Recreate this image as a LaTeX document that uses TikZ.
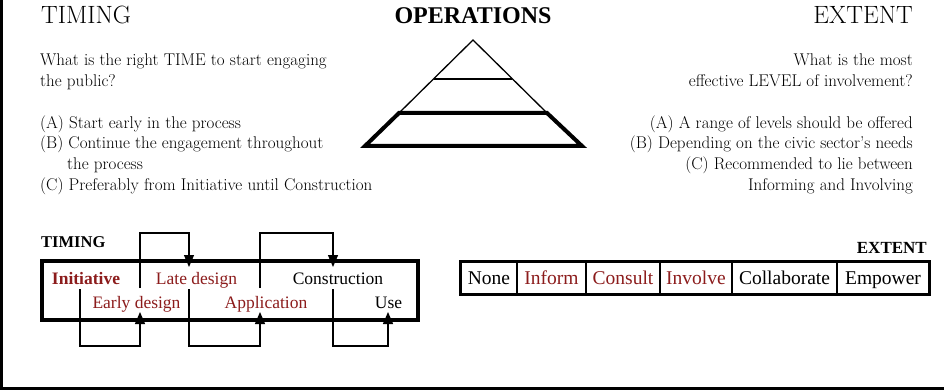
\documentclass[tikz,border=0pt]{standalone}
\usepackage{fontspec}
\newfontfamily\tnr{Liberation Serif}
\usetikzlibrary{arrows.meta}
\definecolor{wine}{RGB}{140,28,28}
\tikzset{
  body/.style={font=\fontsize{17}{20}\selectfont, inner sep=0pt},
  head/.style={font=\fontsize{25}{28}\selectfont, inner sep=0pt},
  stage/.style={font=\tnr\fontsize{17.5}{20}\selectfont, inner sep=0pt, anchor=base},
  label/.style={font=\tnr\bfseries\fontsize{16.5}{19}\selectfont, inner sep=0pt},
  flow/.style={line width=1.3pt, -{Triangle[length=12pt,width=10pt]}},
  cell/.style={draw, line width=1.3pt, minimum height=32pt, inner sep=0pt,
    text height=15pt, text depth=3pt, font=\tnr\fontsize{19.5}{22}\selectfont},
}
\begin{document}
\begin{tikzpicture}[x=1pt,y=-1pt]
\useasboundingbox (0,0) rectangle (944,390);
\fill[white] (0,0) rectangle (944,390);
% frame strips
\fill[black] (0,0) rectangle (3,390);
\fill[black] (0,387) rectangle (944,390);

% headings
\node[head, anchor=base west] (hT) at (41,24) {TIMING};
\node[head, anchor=base east] (hE) at (913,24) {EXTENT};
\node[font=\tnr\bfseries\fontsize{24}{27}\selectfont, inner sep=0pt, anchor=base] (hO) at (473,24) {OPERATIONS};

% pyramid
\draw[line width=1.3pt, line join=miter] (399,113) -- (473,40) -- (547,113);
\draw[line width=1.3pt] (434,79) -- (512,79);
\draw[line width=4pt, line join=miter] (365,146) -- (399,113) -- (547,113) -- (582,146) -- cycle;

% timing questions
\node[body, anchor=base west] (t1) at (40,66) {What is the right TIME to start engaging};
\node[body, anchor=base west] (t2) at (40,86.5) {the public?};
\node[body, anchor=base west] (t3) at (40,128.5) {(A) Start early in the process};
\node[body, anchor=base west] (t4) at (40,149) {(B) Continue the engagement throughout};
\node[body, anchor=base west] (t5) at (67,169.5) {the process};
\node[body, anchor=base west] (t6) at (40,190) {(C) Preferably from Initiative until Construction};

% extent questions
\node[body, anchor=base east] (e1) at (913,66) {What is the most};
\node[body, anchor=base east] (e2) at (913,86.5) {effective LEVEL of involvement?};
\node[body, anchor=base east] (e3) at (913,128.5) {(A) A range of levels should be offered};
\node[body, anchor=base east] (e4) at (913,149) {(B) Depending on the civic sector's needs};
\node[body, anchor=base east] (e5) at (913,169.5) {(C) Recommended to lie between};
\node[body, anchor=base east] (e6) at (913,190) {Informing and Involving};

% timing phases
\node[label, anchor=base west] (lt) at (41,247) {TIMING};
\draw[line width=3.5pt] (42,261) rectangle (418,320);
\node[stage, text=wine, font=\tnr\bfseries\fontsize{17.5}{20}\selectfont] (ini) at (86,284) {Initiative};
\node[stage, text=wine] (late) at (196.5,284) {Late design};
\node[stage] (con) at (338,284) {Construction};
\node[stage, text=wine] (early) at (136.5,308) {Early design};
\node[stage, text=wine] (app) at (266,308) {Application};
\node[stage] (use) at (388.5,308) {Use};

\coordinate (s1) at (80,289);   \coordinate (a1) at (140,312);
\coordinate (s2) at (140,288);  \coordinate (a2) at (189,267);
\coordinate (s3) at (189,289);  \coordinate (a3) at (260,312);
\coordinate (s4) at (260,288);  \coordinate (a4) at (333,267);
\coordinate (s5) at (333,289);  \coordinate (a5) at (388,312);
\draw[flow] (s1) -- ++(0,57) -| (a1);
\draw[flow] (s2) -- ++(0,-55) -| (a2);
\draw[flow] (s3) -- ++(0,57) -| (a3);
\draw[flow] (s4) -- ++(0,-55) -| (a4);
\draw[flow] (s5) -- ++(0,57) -| (a5);

% extent levels
\node[label, anchor=base east, font=\tnr\bfseries\fontsize{17}{19}\selectfont] (le) at (927,253) {EXTENT};
\node[cell, minimum width=56pt]  (c1) at (489,278)   {None};
\node[cell, minimum width=69pt, text=wine]  (c2) at (551.5,278) {Inform};
\node[cell, minimum width=74pt, text=wine]  (c3) at (623,278)   {Consult};
\node[cell, minimum width=72pt, text=wine]  (c4) at (696,278)   {Involve};
\node[cell, minimum width=105pt] (c5) at (784.5,278) {Collaborate};
\node[cell, minimum width=92pt]  (c6) at (883,278)   {Empower};
\draw[line width=2.6pt] (c1.north west) rectangle (c6.south east);
\end{tikzpicture}
\end{document}
